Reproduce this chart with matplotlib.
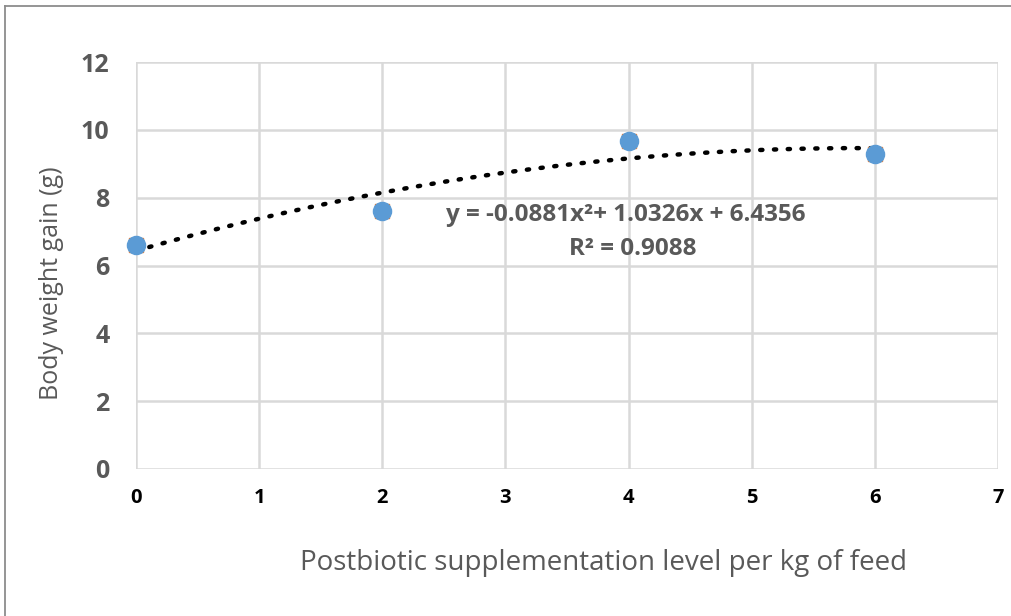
import matplotlib
matplotlib.use("Agg")
import matplotlib.pyplot as plt
import numpy as np
from matplotlib.lines import Line2D

# Data
levels = [0, 2, 4, 6]
weight_gain = [6.6, 7.62, 9.66, 9.3]
trend_coeffs = [-0.0881, 1.0326, 6.4356]  # quadratic trendline (a, b, c)
x_ticks = [0, 1, 2, 3, 4, 5, 6, 7]
y_ticks = [0, 2, 4, 6, 8, 10, 12]
eq_text = "y = -0.0881x²+ 1.0326x + 6.4356"
r2_text = "R² = 0.9088"
x_label = "Postbiotic supplementation level per kg of feed"
y_label = "Body weight gain (g)"

W, H = 1011, 616
fig = plt.figure(figsize=(W / 100, H / 100), dpi=100)
fig.patch.set_facecolor("white")

# outer frame
fig.add_artist(Line2D([5 / W, 5 / W], [0, 1 - 6 / H], transform=fig.transFigure, color="#8c8c8c", lw=1.3))
fig.add_artist(Line2D([5 / W, 1], [1 - 6 / H, 1 - 6 / H], transform=fig.transFigure, color="#8c8c8c", lw=1.3))

left, right, top, bottom = 136 / W, 998 / W, 1 - 62 / H, 1 - 469 / H
ax = fig.add_axes([left, bottom, right - left, top - bottom])

fam = ["Open Sans", "DejaVu Sans"]
gray = "#595959"
grid_c = "#d9d9d9"

ax.set_xlim(0, 7)
ax.set_ylim(0, 12)
ax.set_xticks(x_ticks)
ax.set_yticks(y_ticks)
ax.grid(True, color=grid_c, lw=1.8, zorder=0)
for s in ax.spines.values():
    s.set_visible(False)
ax.tick_params(length=0)
ax.set_xticklabels([str(t) for t in x_ticks], fontsize=14.5, fontweight="bold", color="black", family=fam)
ax.set_yticklabels([str(t) for t in y_ticks], fontsize=18, fontweight="bold", color=gray, family=fam)
ax.tick_params(axis="x", pad=14)
ax.tick_params(axis="y", pad=19)

# trendline
xs = np.linspace(0, 6, 200)
ys = np.polyval(trend_coeffs, xs)
ax.plot(xs, ys, color="black", lw=3.2, linestyle=(0, (0.5, 2.6)), dash_capstyle="round", zorder=3)

# markers
ax.scatter(levels, weight_gain, marker="s", s=110, color="#ED7D31", zorder=4, clip_on=False)
ax.scatter(levels, weight_gain, marker="o", s=170, color="#5B9BD5", zorder=5, clip_on=False)

# equation
fig.text(626 / W, 1 - 215 / H, eq_text, fontsize=17.5, fontweight="bold", color=gray,
         family=fam, ha="center", va="center")
fig.text(633 / W, 1 - 249 / H, r2_text, fontsize=17.5, fontweight="bold", color=gray,
         family=fam, ha="center", va="center")

fig.text(603 / W, 1 - 563 / H, x_label, fontsize=20, color=gray, family=fam, ha="center", va="center")
fig.text(52 / W, 1 - 283 / H, y_label, fontsize=18, color=gray, family=fam, ha="center", va="center", rotation=90)

fig.savefig("out.png", dpi=100)
